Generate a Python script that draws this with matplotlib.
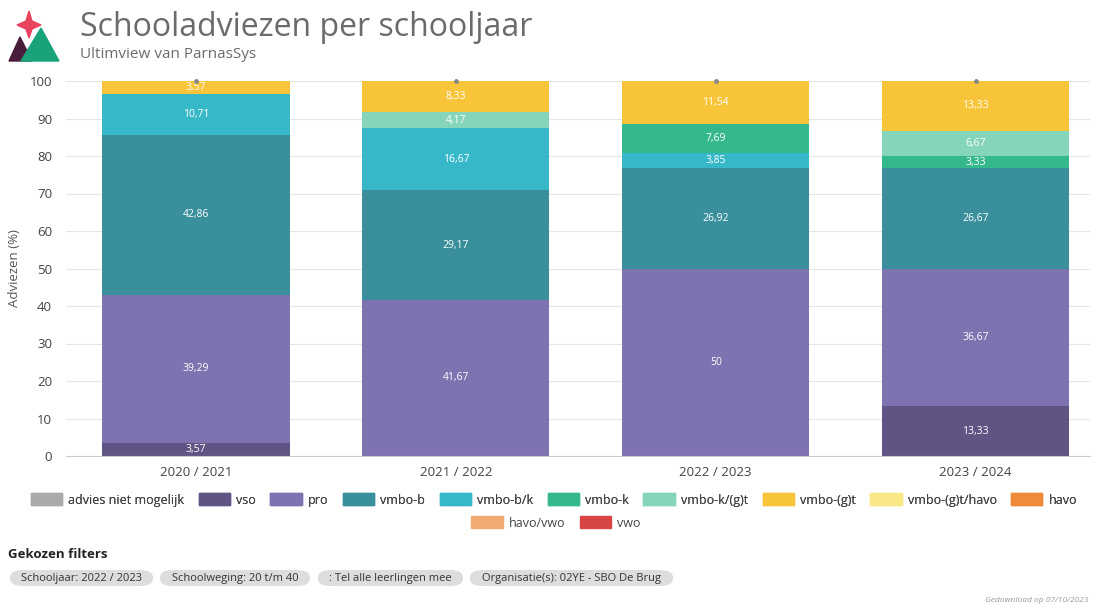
import matplotlib.pyplot as plt
import matplotlib.patches as mpatches
import numpy as np

plt.rcParams['font.family'] = ['Open Sans', 'DejaVu Sans']

# Data
years = ['2020 / 2021', '2021 / 2022', '2022 / 2023', '2023 / 2024']
categories = ['advies niet mogelijk', 'vso', 'pro', 'vmbo-b', 'vmbo-b/k', 'vmbo-k',
              'vmbo-k/(g)t', 'vmbo-(g)t', 'vmbo-(g)t/havo', 'havo', 'havo/vwo', 'vwo']
colors = ['#aaaaaa', '#5f5483', '#7f72b0', '#3a8f9c', '#37b8c8', '#35b88e',
          '#85d4bc', '#f8c43a', '#f9e886', '#ef8a3a', '#f3aa72', '#d84545']
advies_niet_mogelijk = [0, 0, 0, 0]
vso = [3.57, 0, 0, 13.33]
pro = [39.29, 41.67, 50, 36.67]
vmbo_b = [42.86, 29.17, 26.92, 26.67]
vmbo_bk = [10.71, 16.67, 3.85, 0]
vmbo_k = [0, 0, 7.69, 3.33]
vmbo_kgt = [0, 4.17, 0, 6.67]
vmbo_gt = [3.57, 8.33, 11.54, 13.33]
vmbo_gt_havo = [0, 0, 0, 0]
havo = [0, 0, 0, 0]
havo_vwo = [0, 0, 0, 0]
vwo = [0, 0, 0, 0]
series = [advies_niet_mogelijk, vso, pro, vmbo_b, vmbo_bk, vmbo_k, vmbo_kgt,
          vmbo_gt, vmbo_gt_havo, havo, havo_vwo, vwo]
filters = ['Schooljaar: 2022 / 2023', 'Schoolweging: 20 t/m 40',
           ': Tel alle leerlingen mee', 'Organisatie(s): 02YE - SBO De Brug']

W, H = 1093, 605
fig = plt.figure(figsize=(W / 100, H / 100), dpi=100)
ax = fig.add_axes([66 / W, 1 - 456 / H, (1090 - 66) / W, 375 / H])

x = np.arange(len(years))
bottom = np.zeros(len(years))
handles = []
for name, vals, c in zip(categories, series, colors):
    vals = np.array(vals, dtype=float)
    ax.bar(x, vals, 0.72, bottom=bottom, color=c, label=name, zorder=2)
    handles.append(mpatches.Patch(color=c, label=name))
    for xi, v, bt in zip(x, vals, bottom):
        if v > 0:
            txt = f'{v:g}'.replace('.', ',')
            ax.text(xi, bt + v / 2, txt, ha='center', va='center', color='white',
                    fontsize=7.5, zorder=3)
    bottom += vals

# small markers on top of the stacks
ax.plot(x, bottom, 'o', ms=2.5, color='#888888', zorder=4, clip_on=False)

ax.set_xlim(-0.5, 3.44)
ax.set_ylim(0, 100)
ax.set_yticks(range(0, 101, 10))
ax.grid(axis='y', color='#e6e6e6', lw=0.8, zorder=0)
for s in ['top', 'right', 'left']:
    ax.spines[s].set_visible(False)
ax.spines['bottom'].set_color('#cccccc')
ax.set_xticks(x)
ax.set_xticklabels(years)
ax.tick_params(axis='x', length=0, pad=7, labelsize=9.5, colors='#444444')
ax.tick_params(axis='y', length=0, pad=10, labelsize=9.5, colors='#444444')
ax.set_ylabel('Adviezen (%)', fontsize=9.5, color='#555555', labelpad=6)

# Title and logo
fig.text(80 / W, 1 - 27 / H, 'Schooladviezen per schooljaar', fontsize=23,
         color='#6b6b6b', va='center')
fig.text(80 / W, 1 - 55 / H, 'Ultimview van ParnasSys', fontsize=11,
         color='#6b6b6b', va='center')
lax = fig.add_axes([0, 1 - 65 / H, 65 / W, 65 / H])
lax.set_xlim(0, 65)
lax.set_ylim(65, 0)
lax.axis('off')
lax.add_patch(mpatches.Polygon([[9, 61], [20, 37], [32, 61]], color='#4a1c3c'))
lax.add_patch(mpatches.Polygon([[21, 61], [41, 28], [59, 61]], color='#1aa37a'))
lax.add_patch(mpatches.Polygon([[29, 11], [32, 21], [41, 25], [32, 29], [29, 38],
                                [26, 29], [17, 25], [26, 21]], color='#e8435f'))

# Legend (two rows, row-major)
leg_kw = dict(frameon=False, fontsize=9, handlelength=2.5, handleheight=1.1,
              columnspacing=1.15, handletextpad=0.5, labelcolor='#444444',
              borderaxespad=0, borderpad=0)
leg1 = fig.legend(handles=handles[:10], loc='center', ncol=10,
                  bbox_to_anchor=(554 / W, 1 - 500 / H), **leg_kw)
fig.add_artist(leg1)
fig.legend(handles=handles[10:], loc='center', ncol=2,
           bbox_to_anchor=(556 / W, 1 - 523 / H), **leg_kw)

# Filters
fig.text(8 / W, 1 - 555 / H, 'Gekozen filters', fontsize=9.5, weight='bold',
         color='#222222', va='center')
xs = [10, 160, 318, 470]
ws = [143, 150, 145, 203]
for fx, fw, ft in zip(xs, ws, filters):
    fig.patches.append(mpatches.FancyBboxPatch(
        (fx / W, 1 - 586 / H), fw / W, 16 / H,
        boxstyle='round,pad=0,rounding_size=0.012', transform=fig.transFigure,
        facecolor='#dddddd', edgecolor='none'))
    fig.text((fx + fw / 2) / W, 1 - 578 / H, ft, fontsize=8, ha='center',
             va='center', color='#333333')
fig.text(985 / W, 1 - 601 / H, 'Gedownload op 07/10/2023', fontsize=6,
         style='italic', color='#999999', va='center')

fig.savefig('out.png', dpi=100)
